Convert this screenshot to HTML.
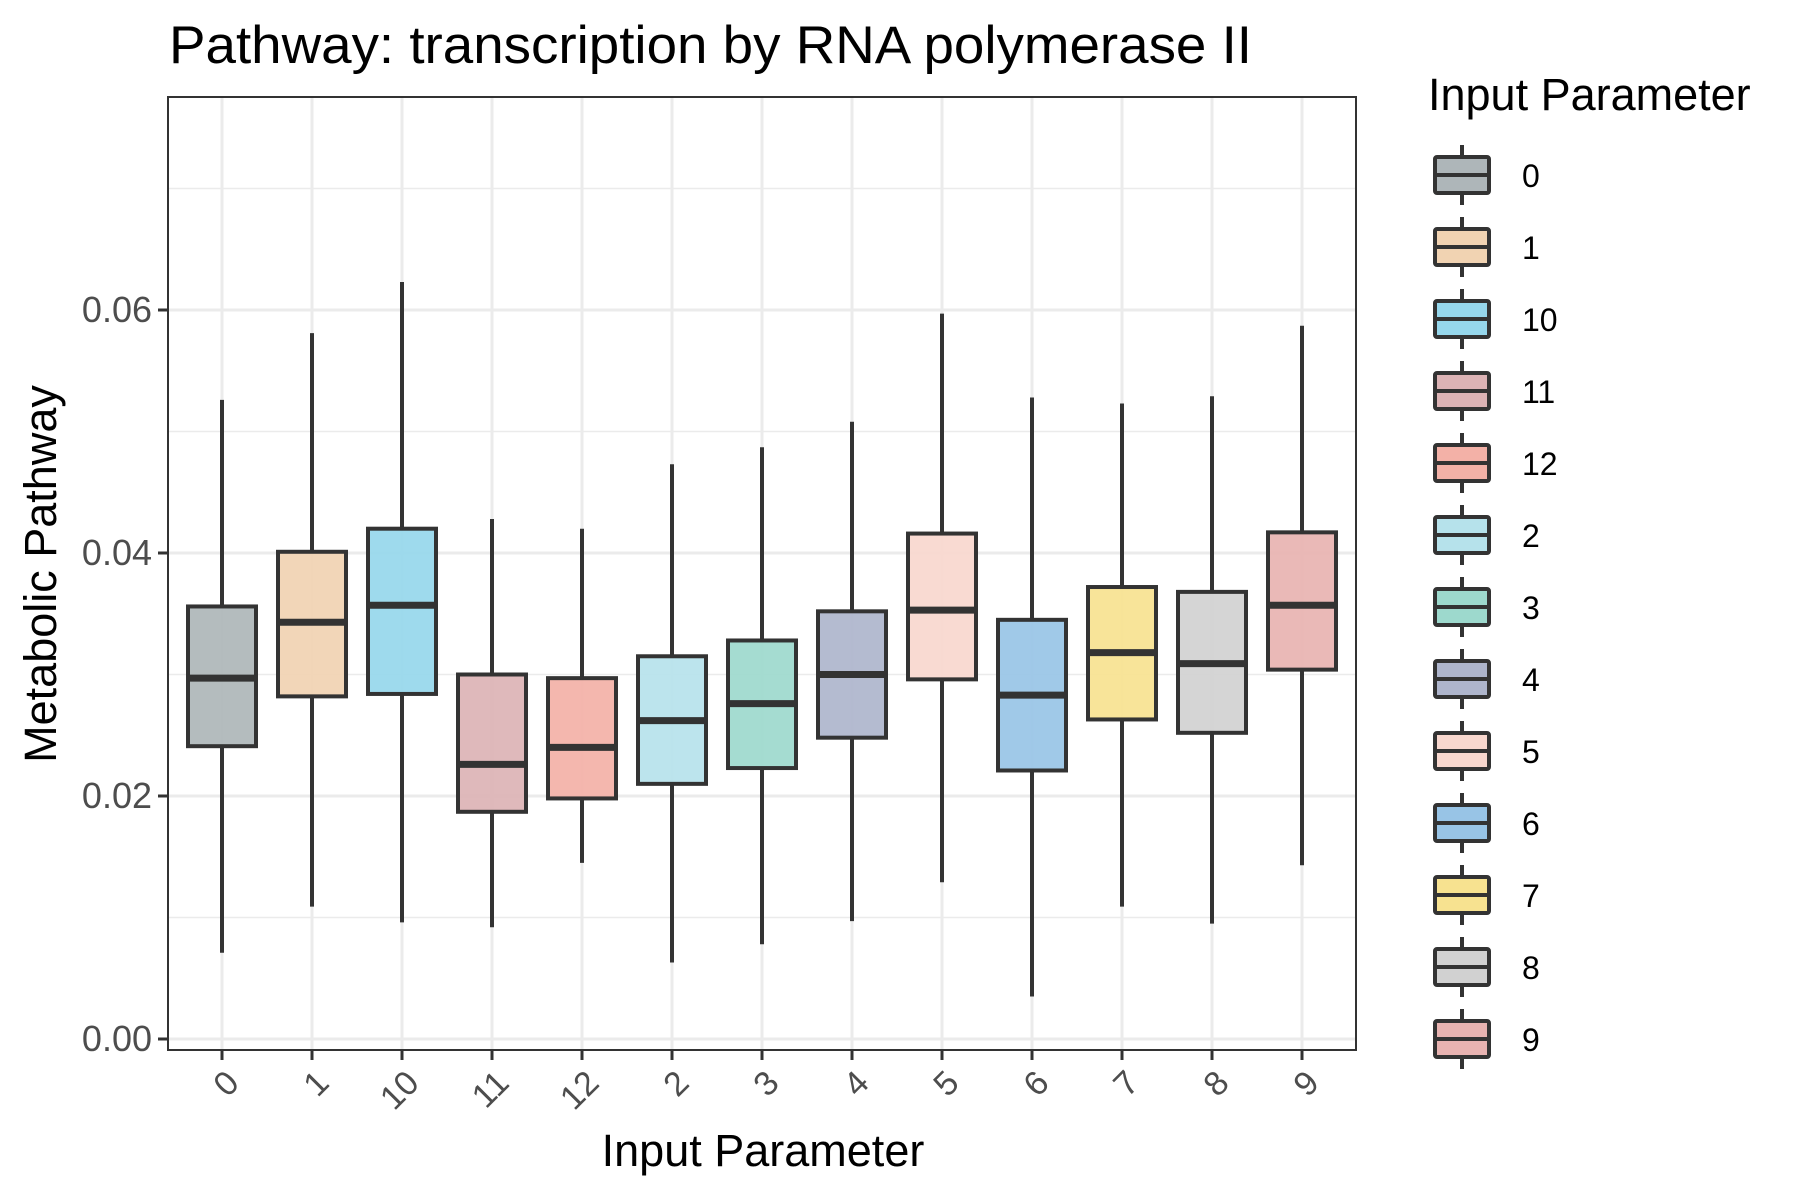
<!DOCTYPE html>
<html><head><meta charset="utf-8"><style>body{margin:0;background:#fff}svg{display:block;font-family:"Liberation Sans",Arial,sans-serif}</style></head>
<body>
<svg id="chart" width="1800" height="1200" viewBox="0 0 1800 1200">
<rect x="0" y="0" width="1800" height="1200" fill="#fff"/>
<text x="169" y="63" font-size="53" textLength="1083" lengthAdjust="spacingAndGlyphs" fill="#000">Pathway: transcription by RNA polymerase II</text>
<g id="grid"></g><g id="boxes"></g>
<rect x="168" y="97" width="1188" height="953" fill="none" stroke="#333" stroke-width="2"/>
<g id="axes"></g>
<text x="763" y="1166" font-size="45" text-anchor="middle">Input Parameter</text>
<text transform="translate(56,574) rotate(-90)" font-size="45" text-anchor="middle">Metabolic Pathway</text>
<text x="1428" y="110" font-size="45">Input Parameter</text>
<g id="legend"></g>
</svg>
<script>
const categories=["0","1","10","11","12","2","3","4","5","6","7","8","9"];
const whiskerHigh=[0.0526,0.0581,0.0623,0.0428,0.0420,0.0473,0.0487,0.0508,0.0597,0.0528,0.0523,0.0529,0.0587];
const q3=[0.0356,0.0401,0.0420,0.0300,0.0297,0.0315,0.0328,0.0352,0.0416,0.0345,0.0372,0.0368,0.0417];
const medians=[0.0297,0.0343,0.0357,0.0226,0.0240,0.0262,0.0276,0.0300,0.0353,0.0283,0.0318,0.0309,0.0357];
const q1=[0.0241,0.0282,0.0284,0.0187,0.0198,0.0210,0.0223,0.0248,0.0296,0.0221,0.0263,0.0252,0.0304];
const whiskerLow=[0.0071,0.0109,0.0096,0.0092,0.0145,0.0063,0.0078,0.0097,0.0129,0.0035,0.0109,0.0095,0.0143];
const colors=["#aeb6b9","#f1d3b2","#96d7ec","#dcb3b5","#f3b1a7","#b6e2eb","#9dd9cd","#aeb5cc","#f8d7ce","#98c4e6","#f7e290","#d1d1d1","#e8b3b1"];
const majorTicks=[0,0.02,0.04,0.06];
const tickLabels=["0.00","0.02","0.04","0.06"];
const minorTicks=[0.01,0.03,0.05,0.07];
const NS="http://www.w3.org/2000/svg";
const X=i=>168+(i+0.6)*90;
const Y=v=>1039-v*12150;
function mk(tag,attrs,parent){const e=document.createElementNS(NS,tag);for(const k in attrs)e.setAttribute(k,attrs[k]);parent.appendChild(e);return e;}
const grid=document.getElementById('grid'),boxes=document.getElementById('boxes'),axes=document.getElementById('axes'),legend=document.getElementById('legend');
minorTicks.forEach(v=>{const l=mk('line',{x1:168,x2:1356,y1:Y(v),y2:Y(v),stroke:'#ebebeb','stroke-width':1.5},grid);

});
majorTicks.forEach((v,i)=>{const l=mk('line',{x1:168,x2:1356,y1:Y(v),y2:Y(v),stroke:'#ebebeb','stroke-width':3},grid);


const t=mk('line',{x1:158,x2:168,y1:Y(v),y2:Y(v),stroke:'#333','stroke-width':3},axes);


const tx=mk('text',{x:152,y:Y(v)+12,'font-size':36,fill:'#4d4d4d','text-anchor':'end'},axes);tx.textContent=tickLabels[i];

});
categories.forEach((c,i)=>{const x=X(i);
const g=mk('line',{x1:x,x2:x,y1:97,y2:1050,stroke:'#ebebeb','stroke-width':3},grid);


const grp=mk('g',{},boxes);


mk('line',{x1:x,x2:x,y1:Y(whiskerHigh[i]),y2:Y(q3[i]),stroke:'#333','stroke-width':4},grp);
mk('line',{x1:x,x2:x,y1:Y(q1[i]),y2:Y(whiskerLow[i]),stroke:'#333','stroke-width':4},grp);
mk('rect',{x:x-34,y:Y(q3[i]),width:68,height:Y(q1[i])-Y(q3[i]),fill:colors[i],'fill-opacity':0.92,stroke:'#333','stroke-width':4},grp);
mk('line',{x1:x-34,x2:x+34,y1:Y(medians[i]),y2:Y(medians[i]),stroke:'#333','stroke-width':7},grp);
const t=mk('line',{x1:x,x2:x,y1:1050,y2:1060,stroke:'#333','stroke-width':3},axes);


const tx=mk('text',{transform:`translate(${x+2},${1068}) rotate(-45)`,'font-size':34,fill:'#4d4d4d','text-anchor':'end',dy:'0.7em'},axes);tx.textContent=c;


const cy=175+i*72;
const lg=mk('g',{},legend);


mk('line',{x1:1462,x2:1462,y1:cy-30,y2:cy+30,stroke:'#333','stroke-width':4},lg);
mk('rect',{x:1435,y:cy-18,width:54,height:36,rx:2,fill:colors[i],stroke:'#333','stroke-width':4},lg);
mk('line',{x1:1435,x2:1489,y1:cy,y2:cy,stroke:'#333','stroke-width':4},lg);
const lt=mk('text',{x:1522,y:cy+12,'font-size':32,fill:'#000'},lg);lt.textContent=c;});
</script>
</body></html>
